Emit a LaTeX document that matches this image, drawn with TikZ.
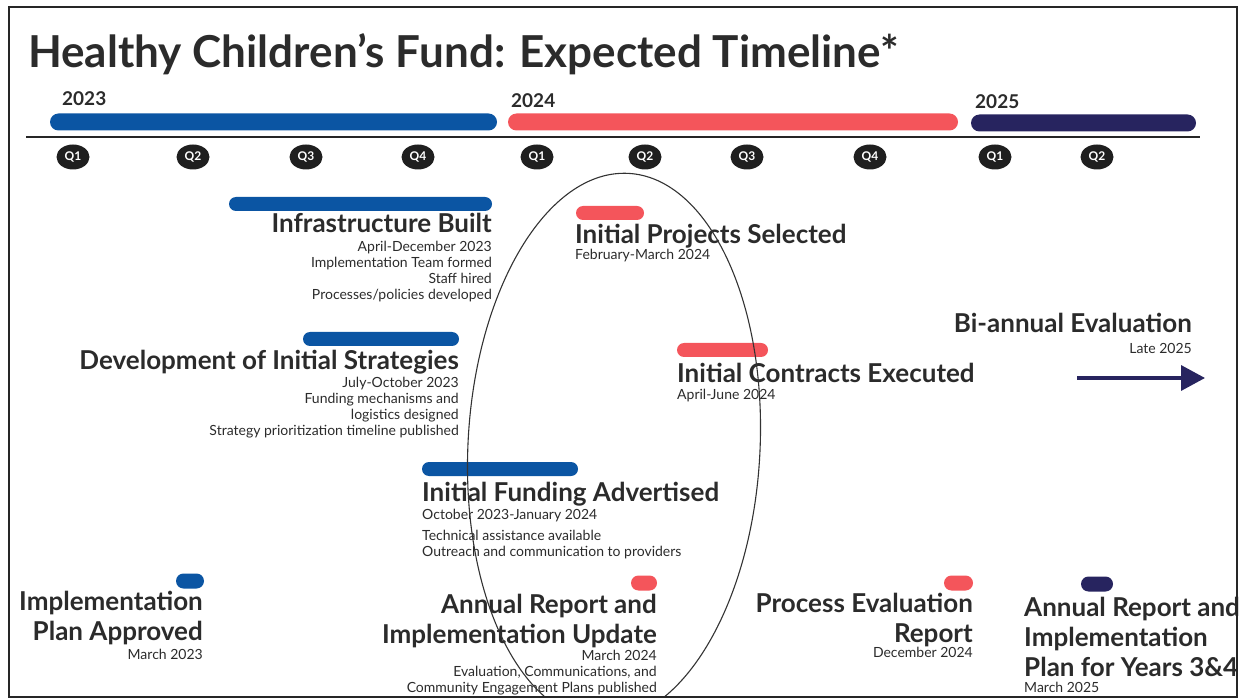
\documentclass[tikz,border=0pt]{standalone}
\usepackage{fontspec}
\setmainfont{Lato}
\usetikzlibrary{arrows.meta,positioning,shapes.geometric}
\definecolor{hcblue}{HTML}{0B55A3}
\definecolor{hcred}{HTML}{F4555B}
\definecolor{hcnavy}{HTML}{27245F}
\definecolor{hcgrey}{HTML}{2B2B2B}
\tikzset{
    %Define standard arrow tip
    >={Triangle[length=24pt,width=25pt]},
    % Define bar style
    bar/.style={
           rectangle,
           rounded corners=7pt,
           minimum height=14pt,
           inner sep=0pt,},
    % Define quarter marker style
    qdot/.style={
           ellipse,
           fill=black!88,
           minimum width=33pt,
           minimum height=25pt,
           inner sep=0pt,
           text=white,
           font=\fontsize{12}{13}\selectfont\bfseries,}
}

\begin{document}
\begin{tikzpicture}[x=1pt, y=-1pt,
maintitle/.style={inner sep=0pt, text=hcgrey, font=\fontsize{44}{48}\selectfont\bfseries},
year/.style={inner sep=0pt, text=hcgrey, font=\fontsize{19}{22}\selectfont\bfseries},
head/.style={inner sep=0pt, text=hcgrey, font=\fontsize{26}{30}\selectfont\bfseries},
sub/.style={inner sep=0pt, text=hcgrey, font=\fontsize{14}{16}\selectfont},
pill/.style={bar, rounded corners=7.5pt, minimum height=15pt},
]
\useasboundingbox (0,0) rectangle (1239,700);

%Title
\node[maintitle, anchor=base west] (title) at (28,68) {Healthy Children’s Fund: Expected Timeline*};

%Years
\node[year, anchor=base west] (y23) at (62,106) {2023};
\node[year, anchor=base west] (y24) at (511,108) {2024};
\node[year, anchor=base west] (y25) at (975,109) {2025};

\node[bar, fill=hcblue, minimum width=447pt, minimum height=17pt, rounded corners=8.5pt] (bar23) at (273.5,122) {};
\node[bar, fill=hcred, minimum width=450pt, minimum height=17pt, rounded corners=8.5pt] (bar24) at (733,122) {};
\node[bar, fill=hcnavy, minimum width=225pt, minimum height=17pt, rounded corners=8.5pt] (bar25) at (1083.5,123) {};

\coordinate (axl) at (26,137);
\coordinate (axr) at (1200,137);
\draw[line width=1.2pt, black!85] (axl) -- (axr);

%Quarters
\foreach \qx/\ql [count=\i] in {73/Q1,193/Q2,306/Q3,418/Q4,537/Q1,645/Q2,747/Q3,870/Q4,995/Q1,1097/Q2}
    \node[qdot] (q\i) at (\qx,157) {\ql};

%Phases
\node[bar, fill=hcblue, minimum width=263pt] (infbar) at (360.5,204) {};
\node[head, anchor=base east] (inftitle) at (492,233) {Infrastructure Built};
\node[sub, anchor=base east, align=right] (infsub) at (492,300) {April-December 2023\\Implementation Team formed\\Staff hired\\Processes/policies developed};

\node[bar, fill=hcblue, minimum width=156pt] (devbar) at (381,339) {};
\node[head, anchor=base east] (devtitle) at (459,370) {Development of Initial Strategies};
\node[sub, anchor=base east, align=right] (devsub) at (459,435) {July-October 2023\\Funding mechanisms and\\logistics designed\\Strategy prioritization timeline published};

\node[bar, fill=hcblue, minimum width=156pt] (fundbar) at (500,469) {};
\node[head, anchor=base west] (fundtitle) at (422,501) {Initial Funding Advertised};
\node[sub, anchor=base west] (funddate) at (422,519) {October 2023-January 2024};
\node[sub, anchor=base west, align=left] (fundsub) at (422,556) {Technical assistance available\\Outreach and communication to providers};

\node[bar, fill=hcred, minimum width=68pt] (projbar) at (610,213) {};
\node[head, anchor=base west] (projtitle) at (575,244) {Initial Projects Selected};
\node[sub, anchor=base west] (projsub) at (575,260) {February-March 2024};

\node[bar, fill=hcred, minimum width=91pt] (contbar) at (722.5,350) {};
\node[head, anchor=base west] (conttitle) at (677,382) {Initial Contracts Executed};
\node[sub, anchor=base west] (contsub) at (677,399) {April-June 2024};

\node[head, anchor=base east] (bititle) at (1192,333) {Bi-annual Evaluation};
\node[sub, anchor=base east] (bisub) at (1192,353) {Late 2025};
\coordinate (bistart) at (1077,378);
\coordinate (biend) at (1205,378);
\draw[->, hcnavy, line width=3.5pt] (bistart) -- (biend);

%Milestones
\node[pill, fill=hcblue, minimum width=28pt] (planpill) at (190,581) {};
\node[head, anchor=base east, align=right] (plantitle) at (203,640) {Implementation\\Plan Approved};
\node[sub, anchor=base east] (plansub) at (203,659) {March 2023};

\node[pill, fill=hcred, minimum width=26pt] (arpill) at (644,583) {};
\node[head, anchor=base east, align=right] (artitle) at (657,643) {Annual Report and\\Implementation Update};
\node[sub, anchor=base east, align=right] (arsub) at (657,692) {March 2024\\Evaluation, Communications, and\\Community Engagement Plans published};

\node[pill, fill=hcred, minimum width=29pt] (procpill) at (958.5,583) {};
\node[head, anchor=base east, align=right] (proctitle) at (973,642) {Process Evaluation\\Report};
\node[sub, anchor=base east] (procsub) at (973,657) {December 2024};

\node[pill, fill=hcnavy, minimum width=32pt] (ar2pill) at (1097,584) {};
\node[head, anchor=base west, align=left] (ar2title) at (1024,676) {Annual Report and\\Implementation\\Plan for Years 3\&4};
\node[sub, anchor=base west] (ar2sub) at (1024,692) {March 2025};

%Circled focus
\begin{scope}
\clip (9,7) rectangle (1237,697);
\draw[line width=1.1pt, black!80] (614,447) ellipse [x radius=146, y radius=274, rotate=-3];
\end{scope}

%Frame
\draw[line width=2pt, black!85] (9,7) rectangle (1237,697);

\end{tikzpicture}
\end{document}
